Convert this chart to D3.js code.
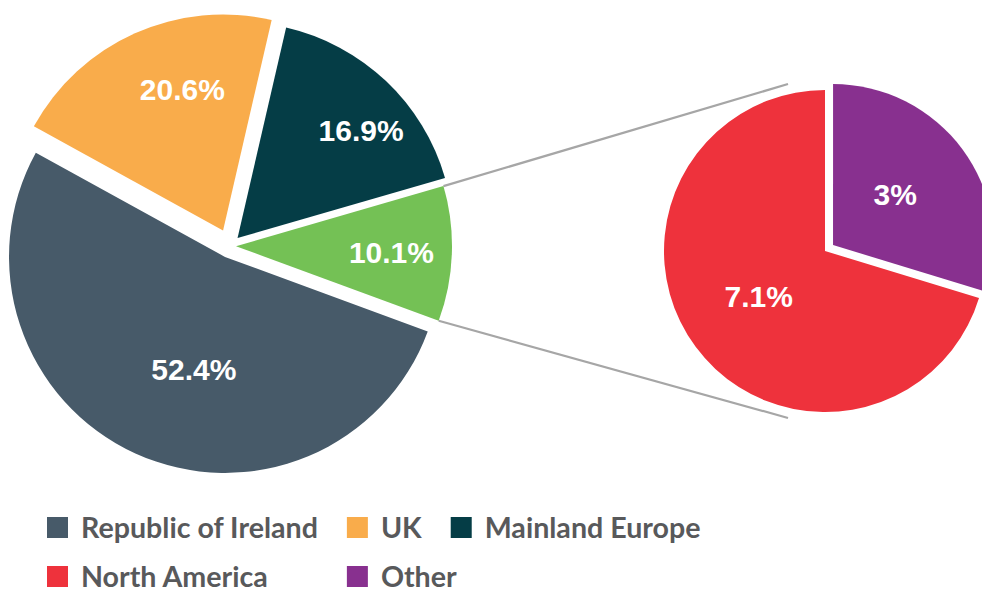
<!DOCTYPE html>
<html>
<head>
<meta charset="utf-8">
<script src="https://cdn.jsdelivr.net/npm/d3@7"></script>
<style>
  html, body { margin: 0; padding: 0; background: #fff; }
  svg { display: block; }
</style>
</head>
<body>
<svg id="chart" width="982" height="592"></svg>
<script>
// ---- data ----
const categories = ["Republic of Ireland", "UK", "Mainland Europe", "North America", "Other"];
const values = [52.4, 20.6, 16.9, 7.1, 3];
const colors = ["#475A69", "#F9AC4B", "#053D46", "#EE323C", "#88308F"];
const compositeColor = "#74C155";
const mainCount = 3; // first three shown in main pie; rest grouped into second pie

// ---- layout ----
const svg = d3.select("#chart");
const c1 = {x: 230, y: 246}, r1 = 216;
const c2 = {x: 825, y: 251}, r2 = 161;
const deg = Math.PI / 180;

const fmt = v => String(+v.toFixed(1)) + "%";

// main pie data
const otherTotal = +d3.sum(values.slice(mainCount)).toFixed(1);
const mainData = values.slice(0, mainCount).map((v, i) => ({name: categories[i], value: v, color: colors[i]}));
mainData.push({name: "composite", value: otherTotal, color: compositeColor});

const mainStart = 110.2 * deg;
const pie1 = d3.pie().sort(null).value(d => d.value).startAngle(mainStart).endAngle(mainStart + 2 * Math.PI);
const arcs1 = pie1(mainData);
const explode1 = [12, 17, 11, 6];
// label placement: [angle shift (deg) from mid-angle, radius fraction]
const labelPos1 = [[-9, 0.54], [8, 0.68], [5.4, 0.76], [0, 0.72]];
const labelPos2 = [[2, 0.5], [-3, 0.5]];

const arc1 = d3.arc().innerRadius(0).outerRadius(r1);
const offset = (a, d) => {
  const m = (a.startAngle + a.endAngle) / 2;
  return [Math.sin(m) * d, -Math.cos(m) * d];
};

// secondary pie
const secData = values.slice(mainCount).map((v, i) => ({name: categories[mainCount + i], value: v, color: colors[mainCount + i]}));
const secStart = (values[4] / otherTotal) * 2 * Math.PI;
const pie2 = d3.pie().sort(null).value(d => d.value).startAngle(secStart).endAngle(secStart + 2 * Math.PI);
const arcs2 = pie2(secData);
const explode2 = [0, 10];
const arc2 = d3.arc().innerRadius(0).outerRadius(r2);

// connector lines
const comp = arcs1[arcs1.length - 1];
const compOff = offset(comp, explode1[3]);
const cornerTop = [c1.x + compOff[0] + Math.sin(comp.startAngle) * r1, c1.y + compOff[1] - Math.cos(comp.startAngle) * r1];
const cornerBot = [c1.x + compOff[0] + Math.sin(comp.endAngle) * r1, c1.y + compOff[1] - Math.cos(comp.endAngle) * r1];
const rc = r2 + 10;
const secTop = [c2.x + Math.sin(-12.5 * deg) * rc, c2.y - Math.cos(-12.5 * deg) * rc];
const secBot = [c2.x + Math.sin(192.5 * deg) * rc, c2.y - Math.cos(192.5 * deg) * rc];

svg.append("g").selectAll("line")
  .data([[cornerTop, secTop], [cornerBot, secBot]])
  .join("line")
  .attr("x1", d => d[0][0]).attr("y1", d => d[0][1])
  .attr("x2", d => d[1][0]).attr("y2", d => d[1][1])
  .attr("stroke", "#A6A6A6").attr("stroke-width", 2.2);

const labelXY = (d, o, pos, r) => {
  const m = (d.startAngle + d.endAngle) / 2 + pos[0] * deg;
  const rr = pos[1] * r;
  return [o[0] + Math.sin(m) * rr, o[1] - Math.cos(m) * rr];
};

// draw main pie
const g1 = svg.append("g").attr("transform", `translate(${c1.x},${c1.y})`);
g1.selectAll("path").data(arcs1).join("path")
  .attr("d", arc1)
  .attr("fill", d => d.data.color)
  .attr("transform", (d, i) => { const o = offset(d, explode1[i]); return `translate(${o[0]},${o[1]})`; });

g1.selectAll("text").data(arcs1).join("text")
  .attr("transform", (d, i) => {
    const p = labelXY(d, offset(d, explode1[i]), labelPos1[i], r1);
    return `translate(${p[0]},${p[1]})`;
  })
  .attr("text-anchor", "middle").attr("dy", "0.36em")
  .attr("font-family", "'Liberation Sans', Arial, sans-serif")
  .attr("font-weight", "bold").attr("font-size", 30)
  .attr("fill", "#fff")
  .text(d => fmt(d.data.value));

// draw secondary pie
const g2 = svg.append("g").attr("transform", `translate(${c2.x},${c2.y})`);
g2.selectAll("path").data(arcs2).join("path")
  .attr("d", arc2)
  .attr("fill", d => d.data.color)
  .attr("transform", (d, i) => { const o = offset(d, explode2[i]); return `translate(${o[0]},${o[1]})`; });

g2.selectAll("text").data(arcs2).join("text")
  .attr("transform", (d, i) => {
    const p = labelXY(d, offset(d, explode2[i]), labelPos2[i], r2);
    return `translate(${p[0]},${p[1]})`;
  })
  .attr("text-anchor", "middle").attr("dy", "0.36em")
  .attr("font-family", "'Liberation Sans', Arial, sans-serif")
  .attr("font-weight", "bold").attr("font-size", 30)
  .attr("fill", "#fff")
  .text(d => fmt(d.data.value));

// legend
const legendItems = categories.map((c, i) => ({name: c, color: colors[i]}));
const rows = [legendItems.slice(0, 3), legendItems.slice(3)];
const lg = svg.append("g");
const sq = 21, textGap = 13, itemGap = 29;
const rowBase = [538, 587];
const colX = [];
rows.forEach((row, ri) => {
  let x = 47;
  row.forEach((item, ci) => {
    if (ri > 0 && colX[ci] !== undefined) x = colX[ci];
    if (ri === 0) colX[ci] = x;
    lg.append("rect")
      .attr("x", x).attr("y", rowBase[ri] - sq).attr("width", sq).attr("height", sq)
      .attr("fill", item.color);
    const t = lg.append("text")
      .attr("x", x + sq + textGap).attr("y", rowBase[ri])
      .attr("font-family", "Lato, 'Open Sans', sans-serif")
      .attr("font-weight", "bold").attr("font-size", 28.6)
      .attr("fill", "#58595B")
      .text(item.name);
    x = x + sq + textGap + t.node().getComputedTextLength() + itemGap;
  });
});
</script>
</body>
</html>
